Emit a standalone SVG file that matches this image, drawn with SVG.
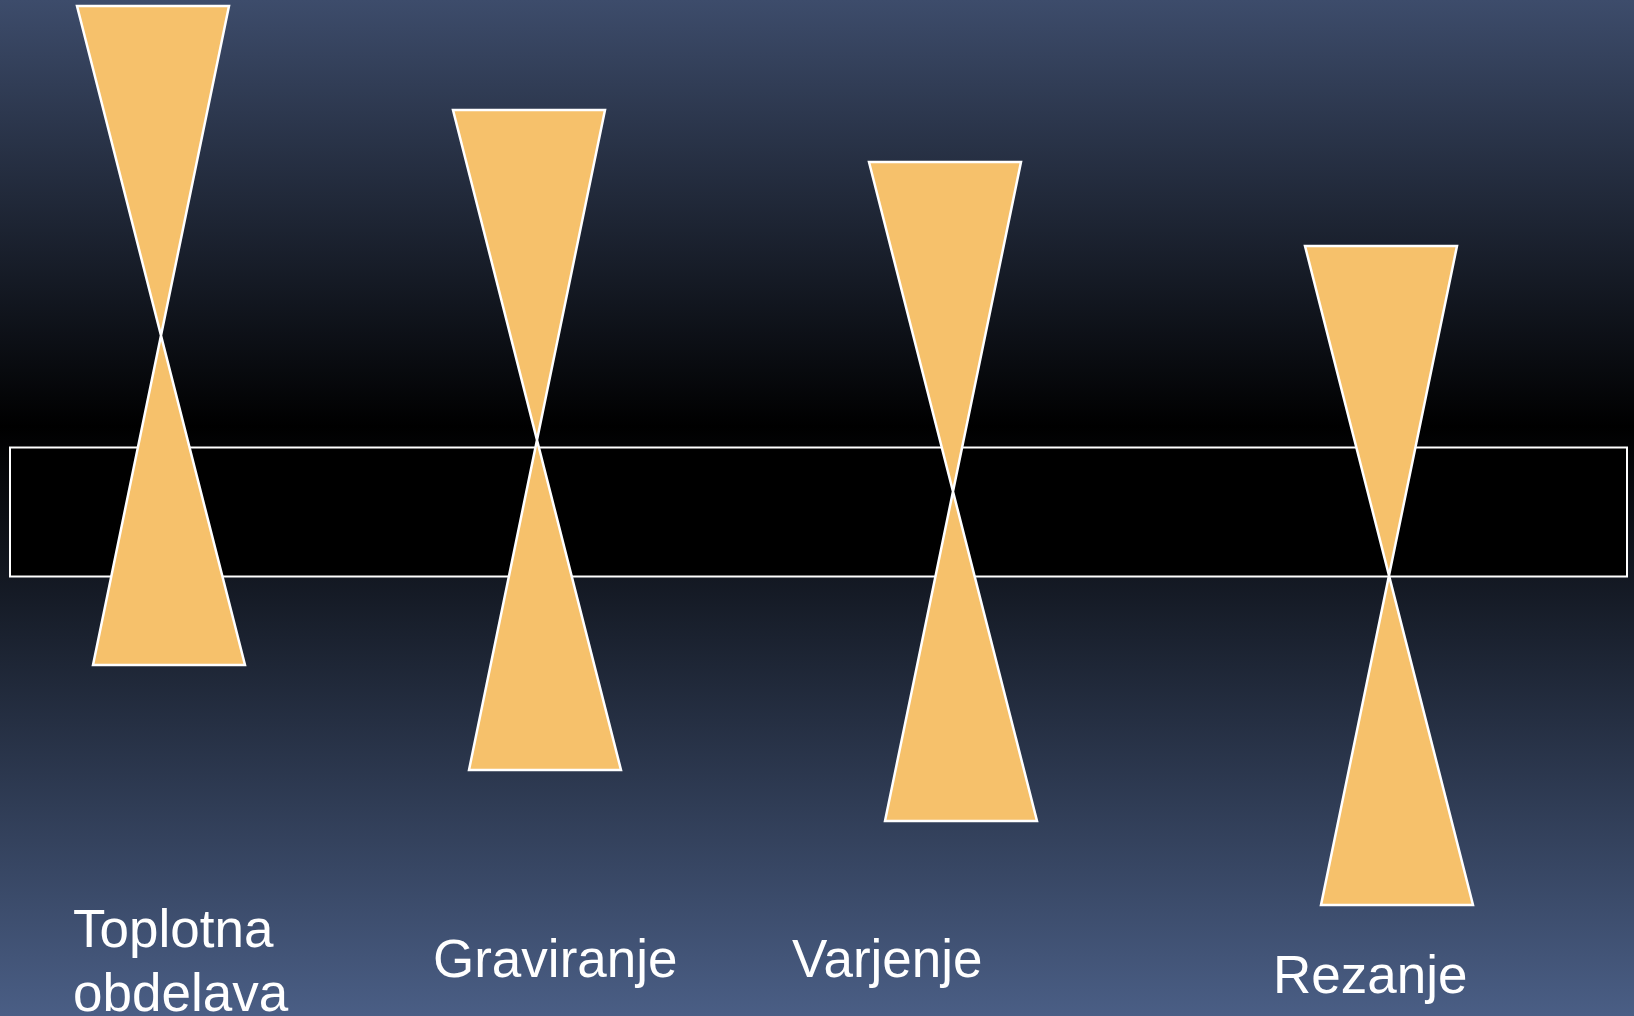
<svg xmlns="http://www.w3.org/2000/svg" width="1634" height="1016" viewBox="0 0 1634 1016">
<defs>
<linearGradient id="bg" x1="0" y1="0" x2="0" y2="1">
<stop offset="0" stop-color="#3d4c6b"/>
<stop offset="0.42" stop-color="#000000"/>
<stop offset="1" stop-color="#4a5e85"/>
</linearGradient>
<style>
.hg{fill:#f6c16b;stroke:#ffffff;stroke-width:2.5;stroke-linejoin:miter}
.lbl{font-family:"Liberation Sans",Arial,sans-serif;font-size:53px;fill:#ffffff}
</style>
</defs>
<rect x="0" y="0" width="1634" height="1016" fill="url(#bg)"/>
<g id="bar"><rect x="10" y="447.5" width="1617" height="129" fill="#000000" stroke="#ffffff" stroke-width="2"/></g>
<g id="connectors"></g>
<g id="n1"><polygon class="hg" points="77,6 229,6 93,665 245,665"/></g>
<g id="n2"><polygon class="hg" points="453,110 605,110 469,770 621,770"/></g>
<g id="n3"><polygon class="hg" points="869,162 1021,162 885,821 1037,821"/></g>
<g id="n4"><polygon class="hg" points="1305,246 1457,246 1321,905 1473,905"/></g>
<g id="t1"><text class="lbl" x="73" y="947">Toplotna</text><text class="lbl" x="73" y="1011">obdelava</text></g>
<g id="t2"><text class="lbl" x="433" y="977">Graviranje</text></g>
<g id="t3"><text class="lbl" x="792" y="977">Varjenje</text></g>
<g id="t4"><text class="lbl" x="1273" y="993">Rezanje</text></g>
</svg>
